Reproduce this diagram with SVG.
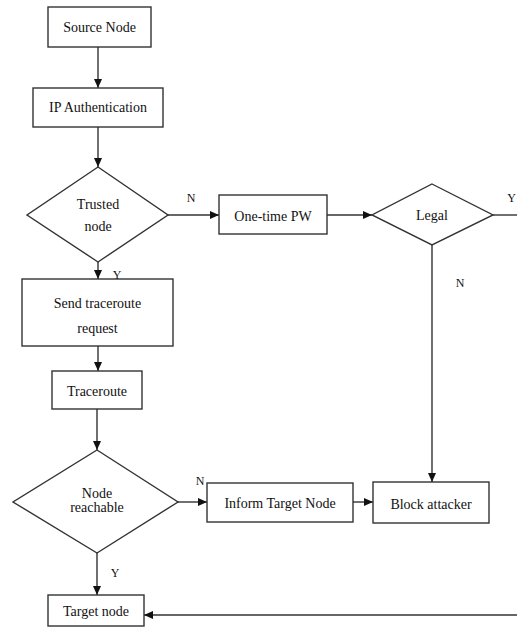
<svg xmlns="http://www.w3.org/2000/svg" width="517" height="636" viewBox="0 0 517 636">
<style>
.box{fill:#fff;stroke:#333;stroke-width:1.4}
.t{font-family:"Liberation Serif","DejaVu Serif",serif;font-size:14px;fill:#111;text-anchor:middle;dominant-baseline:central}
.s{font-family:"Liberation Serif","DejaVu Serif",serif;font-size:14px;fill:#111;text-anchor:middle;dominant-baseline:central}
.l{font-family:"Liberation Serif","DejaVu Serif",serif;font-size:12px;fill:#111;text-anchor:middle;dominant-baseline:central}
.c{fill:none;stroke:#333;stroke-width:1.4}
</style>
<defs>
<marker id="ah" markerWidth="9" markerHeight="8" refX="9" refY="4" orient="auto" markerUnits="userSpaceOnUse">
<path d="M0,0 L9,4 L0,8 z" fill="#111"/>
</marker>
</defs>
<rect width="517" height="636" fill="#fff"/>
<g id="connectors">
<line class="c" x1="98" y1="47" x2="98" y2="88" marker-end="url(#ah)"/>
<line class="c" x1="98" y1="127" x2="98" y2="167" marker-end="url(#ah)"/>
<line class="c" x1="98" y1="262" x2="98" y2="279" marker-end="url(#ah)"/>
<line class="c" x1="98" y1="346" x2="98" y2="371" marker-end="url(#ah)"/>
<line class="c" x1="97" y1="409" x2="97" y2="450" marker-end="url(#ah)"/>
<line class="c" x1="97" y1="553" x2="97" y2="595" marker-end="url(#ah)"/>
<line class="c" x1="168" y1="215" x2="219" y2="215" marker-end="url(#ah)"/>
<line class="c" x1="327" y1="215" x2="372" y2="215" marker-end="url(#ah)"/>
<line class="c" x1="493" y1="215" x2="517" y2="215"/>
<line class="c" x1="432" y1="245" x2="432" y2="482" marker-end="url(#ah)"/>
<line class="c" x1="178" y1="502" x2="207" y2="502" marker-end="url(#ah)"/>
<line class="c" x1="353" y1="502" x2="373" y2="502" marker-end="url(#ah)"/>
<line class="c" x1="517" y1="615" x2="144" y2="615" marker-end="url(#ah)"/>
<text class="l" x="191" y="198">N</text>
<text class="l" x="117" y="275">Y</text>
<text class="l" x="516" y="198" style="text-anchor:end">Y</text>
<text class="l" x="460" y="283">N</text>
<text class="l" x="200" y="481">N</text>
<text class="l" x="115" y="573">Y</text>
</g>
<g id="source">
<rect class="box" x="48" y="7" width="103" height="40"/>
<text class="t" x="99.5" y="27">Source Node</text>
</g>
<g id="ipauth">
<rect class="box" x="33" y="88" width="130" height="39"/>
<text class="t" x="98" y="107.5">IP Authentication</text>
</g>
<g id="trusted">
<polygon class="box" points="98,167 168,215 98,262 27,215"/>
<text class="s" x="98" y="204">Trusted</text>
<text class="s" x="98" y="226">node</text>
</g>
<g id="sendtrace">
<rect class="box" x="22" y="279" width="151" height="67"/>
<text class="t" x="97.5" y="303">Send traceroute</text>
<text class="t" x="97.5" y="328">request</text>
</g>
<g id="traceroute">
<rect class="box" x="52" y="371" width="90" height="38"/>
<text class="t" x="97" y="391">Traceroute</text>
</g>
<g id="reachable">
<polygon class="box" points="97,450 178,502 97,553 13,502"/>
<text class="s" x="97" y="493">Node</text>
<text class="s" x="97" y="507">reachable</text>
</g>
<g id="target">
<rect class="box" x="48" y="595" width="96" height="31"/>
<text class="t" x="96" y="611">Target node</text>
</g>
<g id="onetime">
<rect class="box" x="219" y="195" width="108" height="39"/>
<text class="t" x="273" y="216">One-time PW</text>
</g>
<g id="legal">
<polygon class="box" points="432,184 493,215 432,245 372,215"/>
<text class="s" x="432" y="215">Legal</text>
</g>
<g id="inform">
<rect class="box" x="207" y="483" width="146" height="39"/>
<text class="t" x="280" y="503">Inform Target Node</text>
</g>
<g id="block">
<rect class="box" x="373" y="482" width="116" height="41"/>
<text class="t" x="431" y="504">Block attacker</text>
</g>
</svg>
